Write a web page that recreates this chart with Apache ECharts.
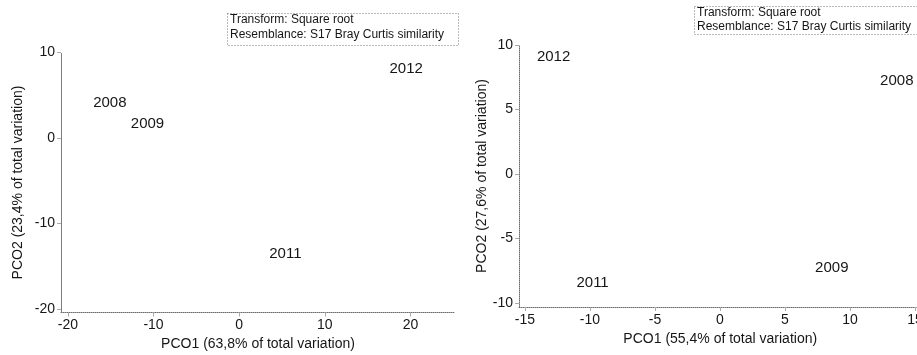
<!DOCTYPE html>
<html>
<head>
<meta charset="utf-8">
<script src="https://cdn.jsdelivr.net/npm/echarts@6/dist/echarts.min.js"></script>
<style>
  html, body { margin: 0; padding: 0; background: #ffffff; }
  #chart { width: 917px; height: 355px; }
</style>
</head>
<body>
<div id="chart"></div>
<script>
// Ordination scores (PCO1, PCO2) per sampling year, two analyses
const yearsA = ['2008', '2009', '2011', '2012'];
const pco1A = [-15.1, -10.7, 5.4, 19.5];
const pco2A = [4.1, 1.7, -13.6, 8.1];

const yearsB = ['2008', '2009', '2011', '2012'];
const pco1B = [13.6, 8.6, -9.8, -12.8];
const pco2B = [7.2, -7.3, -8.4, 9.1];

const xTicksA = [-20, -10, 0, 10, 20];
const yTicksA = [-20, -10, 0, 10];
const xTicksB = [-15, -10, -5, 0, 5, 10, 15];
const yTicksB = [-10, -5, 0, 5, 10];

const xNameA = 'PCO1 (63,8% of total variation)';
const yNameA = 'PCO2 (23,4% of total variation)';
const xNameB = 'PCO1 (55,4% of total variation)';
const yNameB = 'PCO2 (27,6% of total variation)';

const noteLines = ['Transform: Square root', 'Resemblance: S17 Bray Curtis similarity'];

const FONT = '"Liberation Sans", Arial, sans-serif';
const INK = '#161616';
const AXIS = '#6f6f6f';

function axis(min, max, ticks, name, gridIndex, extra) {
  return Object.assign({
    type: 'value',
    gridIndex: gridIndex,
    min: min,
    max: max,
    name: name,
    nameLocation: 'middle',
    nameTextStyle: { fontFamily: FONT, fontSize: 14, color: INK },
    axisLine: { show: true, onZero: false, lineStyle: { color: AXIS, type: 'dotted', width: 1 } },
    axisTick: { show: true, length: 4, customValues: ticks, lineStyle: { color: '#aaaaaa' } },
    axisLabel: { customValues: ticks, fontFamily: FONT, fontSize: 14, color: INK, margin: 6 },
    splitLine: { show: false }
  }, extra || {});
}

function points(xs, ys, names) {
  return xs.map((x, i) => ({ value: [x, ys[i]], name: names[i] }));
}

function labelSeries(xs, ys, names, idx) {
  return {
    type: 'scatter',
    xAxisIndex: idx,
    yAxisIndex: idx,
    symbolSize: 0,
    itemStyle: { opacity: 1 },
    data: points(xs, ys, names),
    label: {
      show: true,
      position: 'inside',
      formatter: p => p.name,
      fontFamily: FONT,
      fontSize: 15,
      color: INK,
      opacity: 1,
      textBorderWidth: 0
    },
    silent: true
  };
}

function noteBox(left, top, width, height, lineGap) {
  return {
    type: 'group',
    left: left,
    top: top,
    children: [
      {
        type: 'rect',
        shape: { x: 0.5, y: 0.5, width: width, height: height },
        style: { fill: 'none', stroke: '#777777', lineWidth: 1, lineDash: [1, 2] }
      },
      {
        type: 'text',
        x: 3, y: 1,
        style: { text: noteLines[0], font: '12px ' + FONT, fill: INK, textVerticalAlign: 'top' }
      },
      {
        type: 'text',
        x: 3, y: 1 + lineGap,
        style: { text: noteLines[1], font: '12px ' + FONT, fill: INK, textVerticalAlign: 'top' }
      }
    ]
  };
}

const chart = echarts.init(document.getElementById('chart'), null, { renderer: 'canvas' });
chart.setOption({
  backgroundColor: '#ffffff',
  animation: false,
  grid: [
    { left: 61, right: 462, top: 52.5, bottom: 42.5, outerBoundsMode: 'none' },
    { left: 519, right: -4.5, top: 45, bottom: 48, outerBoundsMode: 'none' }
  ],
  xAxis: [
    axis(-20.8, 25.2, xTicksA, xNameA, 0, { nameGap: 24 }),
    axis(-15.46, 15.5, xTicksB, xNameB, 1, { nameGap: 22 })
  ],
  yAxis: [
    axis(-20.4, 10, yTicksA, yNameA, 0, { nameGap: 36 }),
    axis(-10.3, 10, yTicksB, yNameB, 1, { nameGap: 30 })
  ],
  series: [
    labelSeries(pco1A, pco2A, yearsA, 0),
    labelSeries(pco1B, pco2B, yearsB, 1)
  ],
  graphic: [
    noteBox(225, 11, 231, 32, 15),
    noteBox(692, 4, 240, 28, 14)
  ]
});
</script>
</body>
</html>
